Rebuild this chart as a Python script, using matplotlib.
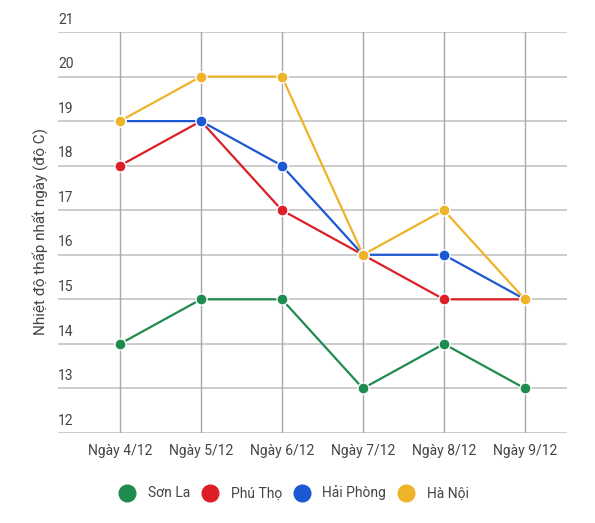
import matplotlib
matplotlib.use('Agg')
import matplotlib.pyplot as plt
from matplotlib.lines import Line2D

plt.rcParams['font.family'] = ['Roboto', 'DejaVu Sans']

days = ['Ngày 4/12', 'Ngày 5/12', 'Ngày 6/12', 'Ngày 7/12', 'Ngày 8/12', 'Ngày 9/12']
son_la = [14, 15, 15, 13, 14, 13]
phu_tho = [18, 19, 17, 16, 15, 15]
hai_phong = [19, 19, 18, 16, 16, 15]
ha_noi = [19, 20, 20, 16, 17, 15]
names = ['Sơn La', 'Phú Thọ', 'Hải Phòng', 'Hà Nội']
colors = ['#1f8b4f', '#dc1f26', '#1c58d2', '#efb32a']
y_ticks = list(range(12, 22))

W, H = 595, 523
fig = plt.figure(figsize=(W / 100, H / 100), dpi=100)
ax = fig.add_axes([58 / W, 1 - 433 / H, (567 - 58) / W, (433 - 32) / H])

x = list(range(len(days)))
for vals, name, c in zip([son_la, phu_tho, hai_phong, ha_noi], names, colors):
	ax.plot(x, vals, color=c, lw=1.6, marker='o', ms=8,
		markeredgecolor='white', markeredgewidth=1.0, zorder=3)

ax.set_xlim(-0.765, 5.52)
ax.set_ylim(12, 21)
for y in y_ticks:
	ax.axhline(y, color='#c4c4c4', lw=1.2, zorder=1)
	ax.text(-0.765, y + 0.12, str(y), fontsize=10, color='#444444',
		ha='left', va='bottom')
for xi in x:
	ax.axvline(xi, color='#a8a8a8', lw=1.0, zorder=1)

for s in ax.spines.values():
	s.set_visible(False)
ax.set_yticks([])
ax.set_xticks(x)
ax.set_xticklabels(days, fontsize=10, color='#444444')
ax.tick_params(axis='x', length=0, pad=8)

fig.text(40 / W, 1 - 231 / H, 'Nhiệt độ thấp nhất ngày (độ C)', rotation=90,
	fontsize=11, color='#444444', ha='center', va='center')

handles = [Line2D([], [], ls='none', marker='o', ms=12, color=c) for c in colors]
fig.legend(handles, names, loc='center', bbox_to_anchor=(291 / W, 1 - 493 / H),
	ncol=4, frameon=False, fontsize=10, handletextpad=0.5, columnspacing=0.4,
	labelcolor='#444444')

fig.savefig('out.png', dpi=100)
